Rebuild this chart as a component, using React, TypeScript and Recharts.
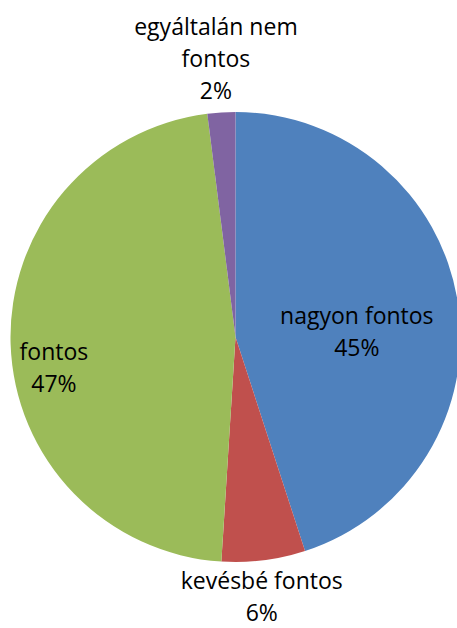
import { PieChart, Pie, Cell } from "recharts";

const categories = ["nagyon fontos", "kevésbé fontos", "fontos", "egyáltalán nem fontos"];
const shares = [45, 6, 47, 2];
const labelLines = [["nagyon fontos"], ["kevésbé fontos"], ["fontos"], ["egyáltalán nem", "fontos"]];

const colors = ["#4F81BD", "#C0504D", "#9BBB59", "#8064A2"];
// label placement per slice: radius factor and angle nudge (degrees)
const labelPlace = [
  { f: 0.54, da: -6 },
  { f: 1.155, da: -1.4 },
  { f: 0.818, da: 7.6 },
  { f: 1.245, da: 0.4 },
];

const data = categories.map((name, i) => ({ name, value: shares[i] }));

const RAD = Math.PI / 180;
const LINE_H = 32;

function renderLabel(props: any) {
  const { cx, cy, midAngle, outerRadius, index, value } = props;
  const p = labelPlace[index];
  const a = (midAngle + p.da) * RAD;
  const r = outerRadius * p.f;
  const x = cx + r * Math.cos(a);
  const y = cy - r * Math.sin(a);
  const lines = [...labelLines[index], `${value}%`];
  const top = y - ((lines.length - 1) * LINE_H) / 2;
  return (
    <text
      x={x}
      y={top}
      textAnchor="middle"
      dominantBaseline="central"
      fill="#000"
      fontSize={23}
      fontFamily="'Open Sans', sans-serif"
    >
      {lines.map((t, k) => (
        <tspan key={k} x={x} y={top + k * LINE_H}>
          {t}
        </tspan>
      ))}
    </text>
  );
}

export default function App() {
  return (
    <div style={{ position: "absolute", left: 0, top: 0, width: 457, height: 628, background: "#fff" }}>
      <PieChart width={457} height={628} margin={{ top: 0, right: 0, bottom: 0, left: 0 }}>
        <Pie
          data={data}
          dataKey="value"
          cx={235.5}
          cy={337}
          outerRadius={225}
          startAngle={90}
          endAngle={-270}
          stroke="none"
          label={renderLabel}
          labelLine={false}
          isAnimationActive={false}
        >
          {data.map((d, i) => (
            <Cell key={d.name} fill={colors[i]} />
          ))}
        </Pie>
      </PieChart>
    </div>
  );
}
